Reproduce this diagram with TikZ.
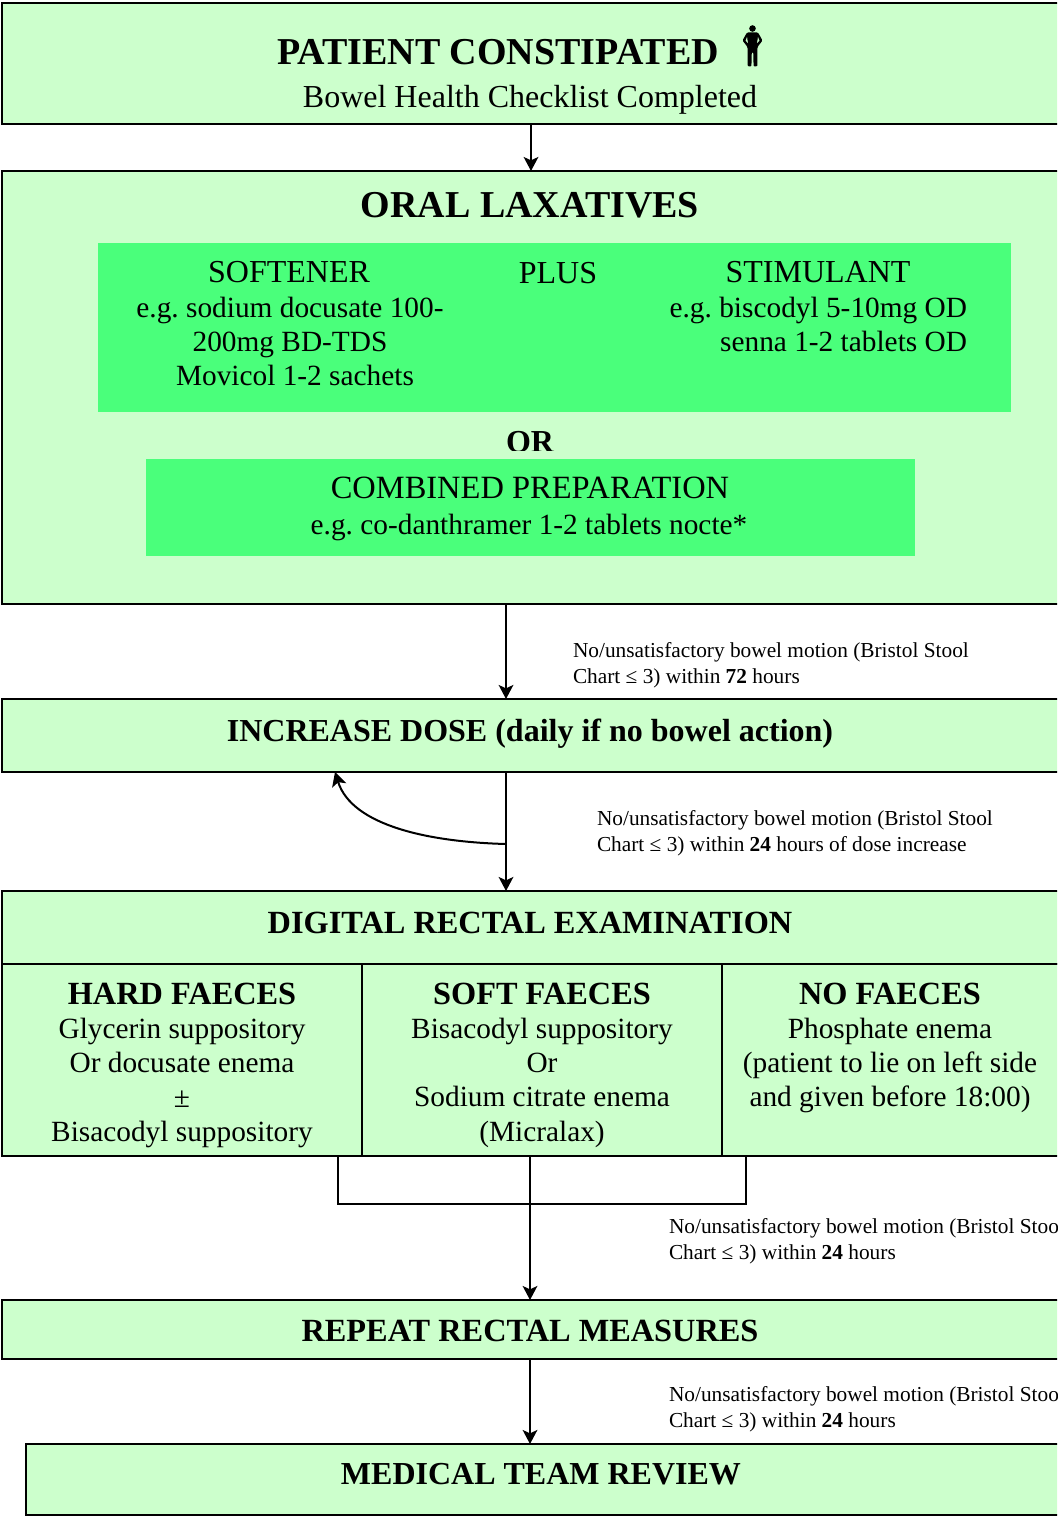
\documentclass[tikz,border=0pt]{standalone}
\usepackage{fontspec}
\setmainfont{Liberation Serif}
\usetikzlibrary{arrows.meta,calc}
\frenchspacing
\definecolor{pale}{HTML}{CCFFCC}
\definecolor{vivid}{HTML}{4AFF7B}
\newcommand{\pxbox}[6]{% name,x1,y1,x2,y2,style
  \pgfmathsetmacro{\boxw}{(#4-#2)*0.75}\pgfmathsetmacro{\boxh}{(#5-#3)*0.75}
  \node[#6,minimum width=\boxw pt,minimum height=\boxh pt] (#1) at ({(#2+#4)/2},{(#3+#5)/2}) {};}
\newcommand{\tl}[5]{\node[#4] (#1) at (#2,#3) {#5};}
\tikzset{
  x=0.75pt,y=-0.75pt,
  flow/.style={line width=1.5pt,draw=black,fill=pale,inner sep=0pt,outer sep=0pt,anchor=center},
  panel/.style={draw=none,fill=vivid,inner sep=0pt,outer sep=0pt,anchor=center},
  txt/.style={anchor=base,inner sep=0pt,outer sep=0pt,font=\fontsize{24}{28}\selectfont},
  body/.style={anchor=base,inner sep=0pt,outer sep=0pt,font=\fontsize{22}{26}\selectfont},
  head/.style={txt,font=\fontsize{28.5}{32}\selectfont\bfseries},
  cellhead/.style={txt,font=\fontsize{24}{28}\selectfont\bfseries},
  cellheadw/.style={txt,font=\fontsize{24.25}{28}\selectfont\bfseries},
  note/.style={anchor=base west,inner sep=0pt,outer sep=0pt,font=\fontsize{16}{20}\selectfont},
  link/.style={line width=1.5pt,draw=black},
  arrow/.style={link,-{Stealth[length=10.5pt,width=11pt,inset=2.5pt]}},
}
\begin{document}
\begin{tikzpicture}
\useasboundingbox (0,0) rectangle (1057,1516);
\clip (0,0) rectangle (1057,1516);
\fill[white] (0,0) rectangle (1057,1516);
% boxes
\pxbox{top}{2}{3}{1070}{124}{flow}
\pxbox{oral}{2}{171}{1070}{604}{flow}
\pxbox{incr}{2}{699}{1070}{772}{flow}
\pxbox{dig}{2}{891}{1070}{964}{flow}
\pxbox{hard}{2}{964}{362}{1156}{flow}
\pxbox{soft}{362}{964}{722}{1156}{flow}
\pxbox{none}{722}{964}{1070}{1156}{flow}
\pxbox{rep}{2}{1300}{1070}{1359}{flow}
\pxbox{med}{26}{1444}{1070}{1515}{flow}
% inner panels
\pxbox{pone}{98}{243}{1011}{412}{panel}
\begin{scope}
\clip (100,420) rectangle (960,450);
\tl{or}{530}{452}{cellhead}{OR}
\end{scope}
\pxbox{ptwo}{146}{459}{915}{556}{panel}
% text
\tl{t1}{498}{65}{head}{PATIENT CONSTIPATED}
\tl{t2}{530}{108}{txt}{Bowel Health Checklist Completed}
\tl{t3}{530}{217}{head}{ORAL LAXATIVES}
\tl{t4}{289}{282}{txt}{SOFTENER}
\tl{t5}{558}{283}{txt}{PLUS}
\tl{t6}{818}{282}{txt}{STIMULANT}
\tl{t7}{290}{317}{body}{e.g. sodium docusate 100-}
\tl{t8}{290}{351}{body}{200mg BD-TDS}
\tl{t9}{295}{385}{body}{Movicol 1-2 sachets}
\tl{t10}{967}{317}{body,anchor=base east}{e.g. biscodyl 5-10mg OD}
\tl{t11}{967}{351}{body,anchor=base east}{senna 1-2 tablets OD}
\tl{t12}{530}{498}{txt,font=\fontsize{24.35}{28}\selectfont}{COMBINED PREPARATION}
\tl{t13}{529}{534}{body}{e.g. co-danthramer 1-2 tablets nocte*}
\tl{t14}{530}{741}{cellhead}{INCREASE DOSE (daily if no bowel action)}
\tl{t15}{530}{933}{cellheadw}{DIGITAL RECTAL EXAMINATION}
\tl{h1}{182}{1004}{cellheadw}{HARD FAECES}
\tl{h2}{182}{1038}{body}{Glycerin suppository}
\tl{h3}{182}{1072}{body}{Or docusate enema}
\tl{h4}{182}{1107}{body}{±}
\tl{h5}{182}{1141}{body}{Bisacodyl suppository}
\tl{s1}{542}{1004}{cellheadw}{SOFT FAECES}
\tl{s2}{542}{1038}{body}{Bisacodyl suppository}
\tl{s3}{542}{1072}{body}{Or}
\tl{s4}{542}{1106}{body}{Sodium citrate enema}
\tl{s5}{542}{1141}{body}{(Micralax)}
\tl{n1}{890}{1004}{cellheadw}{NO FAECES}
\tl{n2}{890}{1038}{body}{Phosphate enema}
\tl{n3}{890}{1072}{body}{(patient to lie on left side}
\tl{n4}{890}{1106}{body}{and given before 18:00)}
\tl{t16}{530}{1341}{cellheadw}{REPEAT RECTAL MEASURES}
\tl{t17}{541}{1484}{cellhead}{MEDICAL TEAM REVIEW}
% notes
\tl{a1}{573}{657}{note}{No/unsatisfactory bowel motion (Bristol Stool}
\tl{a2}{573}{683}{note}{Chart ≤ 3) within \textbf{72} hours}
\tl{b1}{597}{825}{note}{No/unsatisfactory bowel motion (Bristol Stool}
\tl{b2}{597}{851}{note}{Chart ≤ 3) within \textbf{24} hours of dose increase}
\tl{c1}{669}{1233}{note}{No/unsatisfactory bowel motion (Bristol Stool}
\tl{c2}{669}{1259}{note}{Chart ≤ 3) within \textbf{24} hours}
\tl{d1}{669}{1401}{note}{No/unsatisfactory bowel motion (Bristol Stool}
\tl{d2}{669}{1427}{note}{Chart ≤ 3) within \textbf{24} hours}
% person icon
\fill (752.5,28.5) circle (3.3);
\fill[rounded corners=0.8pt] (747,32.5) -- (758,32.5) -- (762.5,40.5) -- (757.5,47) -- (757.3,66.5) -- (753.6,66.5) -- (753.2,52) -- (751.8,52) -- (751.4,66.5) -- (747.7,66.5) -- (747.5,47) -- (742.5,40.5) -- cycle;
\fill[pale] (747,37) -- (745.6,40.6) -- (748,43.2) -- cycle;
\fill[pale] (758,37) -- (759.4,40.6) -- (757,43.2) -- cycle;
% connectors
\coordinate (xa) at (531,0);
\coordinate (xb) at (506,0);
\draw[arrow] (top.south -| xa) -- (oral.north -| xa);
\draw[arrow] (oral.south -| xb) -- (incr.north -| xb);
\draw[arrow] (incr.south -| xb) -- (dig.north -| xb);
\coordinate (branch) at (506,844);
\coordinate (back) at (335,772);
\draw[arrow] (branch) .. controls (430,842) and (352,826) .. (back);
\coordinate (bl) at (338,1204);
\coordinate (br) at (746,1204);
\coordinate (bm) at (530,1204);
\draw[link] (hard.south -| bl) -- (bl) -- (br) -- (none.south -| br);
\draw[link] (soft.south -| bm) -- (bm);
\draw[arrow] (bm) -- (rep.north -| bm);
\draw[arrow] (rep.south -| bm) -- (med.north -| bm);
\end{tikzpicture}
\end{document}
